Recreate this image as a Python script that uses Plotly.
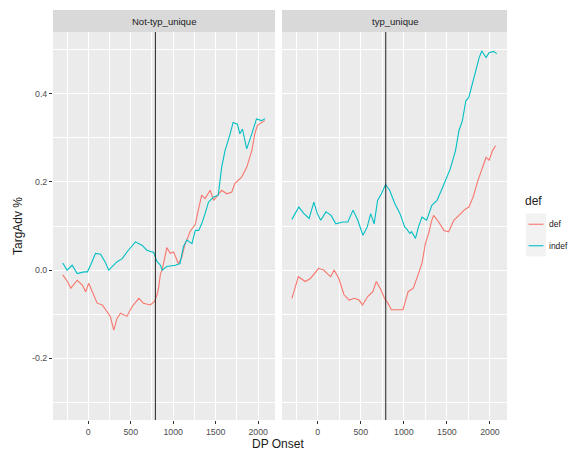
import plotly.graph_objects as go

panels = ["Not-typ_unique", "typ_unique"]
series_names = ["def", "indef"]
legend_title = "def"
colors = {"def": "#F8766D", "indef": "#00BFC4"}
vline_x = 790

# Not-typ_unique
nt_indef_x = [-300, -250, -190, -130, -50, -10, 27, 85, 145, 200, 240, 340, 400, 455, 555, 635, 690, 770, 810, 850, 870, 925, 1025, 1080, 1120, 1160, 1220, 1260, 1300, 1335, 1375, 1415, 1475, 1530, 1570, 1610, 1670, 1705, 1755, 1785, 1815, 1865, 1925, 1980, 2040, 2080]
nt_indef_y = [0.016, 0.0, 0.011, -0.008, -0.004, -0.004, 0.011, 0.038, 0.036, 0.018, 0.0, 0.019, 0.026, 0.041, 0.064, 0.056, 0.045, 0.040, 0.019, 0.011, 0.0, 0.008, 0.011, 0.015, 0.053, 0.068, 0.060, 0.090, 0.090, 0.105, 0.128, 0.154, 0.166, 0.170, 0.233, 0.271, 0.309, 0.335, 0.331, 0.309, 0.320, 0.275, 0.309, 0.343, 0.339, 0.343]
nt_def_x = [-300, -245, -205, -130, -70, -30, 5, 65, 105, 165, 225, 260, 300, 340, 380, 455, 515, 595, 650, 730, 780, 810, 830, 850, 870, 925, 965, 1005, 1060, 1100, 1140, 1160, 1200, 1260, 1295, 1335, 1375, 1435, 1475, 1530, 1570, 1630, 1690, 1725, 1805, 1865, 1925, 1960, 1990, 2040, 2080]
nt_def_y = [-0.011, -0.026, -0.041, -0.023, -0.034, -0.049, -0.030, -0.056, -0.075, -0.079, -0.094, -0.105, -0.136, -0.109, -0.098, -0.105, -0.083, -0.064, -0.075, -0.079, -0.071, -0.056, -0.038, -0.008, 0.0, 0.051, 0.038, 0.041, 0.015, 0.028, 0.060, 0.068, 0.088, 0.104, 0.136, 0.170, 0.162, 0.181, 0.158, 0.170, 0.181, 0.173, 0.177, 0.196, 0.211, 0.233, 0.271, 0.309, 0.328, 0.335, 0.339]

# typ_unique
t_indef_x = [-300, -260, -220, -160, -100, -45, -5, 35, 95, 155, 210, 290, 350, 410, 465, 525, 575, 615, 655, 695, 740, 788, 835, 895, 955, 1010, 1030, 1070, 1090, 1135, 1170, 1210, 1265, 1325, 1385, 1445, 1500, 1540, 1600, 1640, 1680, 1720, 1755, 1795, 1835, 1875, 1905, 1955, 1990, 2040, 2080]
t_indef_y = [0.115, 0.128, 0.143, 0.128, 0.117, 0.154, 0.128, 0.113, 0.132, 0.124, 0.105, 0.109, 0.109, 0.136, 0.113, 0.079, 0.098, 0.128, 0.105, 0.158, 0.173, 0.194, 0.181, 0.151, 0.128, 0.098, 0.094, 0.083, 0.087, 0.072, 0.098, 0.120, 0.113, 0.147, 0.158, 0.185, 0.211, 0.230, 0.271, 0.316, 0.339, 0.384, 0.392, 0.422, 0.452, 0.482, 0.497, 0.482, 0.493, 0.496, 0.491]
t_def_x = [-300, -225, -145, -85, 10, 70, 110, 150, 190, 245, 305, 365, 425, 480, 520, 580, 640, 680, 735, 775, 815, 855, 935, 990, 1050, 1110, 1170, 1210, 1250, 1290, 1320, 1345, 1405, 1465, 1520, 1580, 1640, 1700, 1755, 1805, 1855, 1915, 1955, 1990, 2030, 2065]
t_def_y = [-0.064, -0.015, -0.026, -0.019, 0.004, 0.0, -0.008, -0.015, 0.0, -0.019, -0.056, -0.068, -0.064, -0.068, -0.079, -0.060, -0.049, -0.026, -0.045, -0.064, -0.075, -0.090, -0.090, -0.090, -0.049, -0.041, -0.008, 0.015, 0.060, 0.085, 0.110, 0.124, 0.109, 0.090, 0.087, 0.113, 0.124, 0.136, 0.143, 0.166, 0.200, 0.235, 0.256, 0.249, 0.271, 0.282]

y_ticks = [-0.2, 0.0, 0.2, 0.4]
y_ticktext = ["-0.2", "0.0", "0.2", "0.4"]
y_minor = [-0.3, -0.1, 0.1, 0.3, 0.5]
x_ticks = [0, 500, 1000, 1500, 2000]
x_ticktext = ["0", "500", "1000", "1500", "2000"]
x_minor = [-250, 250, 750, 1250, 1750]

# window geometry (page body has an 8px margin)
OFF = 8
WIN_W, WIN_H = 577, 454
W, H = WIN_W - OFF, WIN_H - OFF
L, R, T, B = 53, 507, 32, 420          # plot area in window pixels
FONT = "Liberation Sans, Arial, sans-serif"
pw = R - L
ph = B - T


def px(wx):
    return (wx - L) / pw


def py(wy):
    return (B - wy) / ph


fig = go.Figure()
data = {
    ("Not-typ_unique", "def"): (nt_def_x, nt_def_y),
    ("Not-typ_unique", "indef"): (nt_indef_x, nt_indef_y),
    ("typ_unique", "def"): (t_def_x, t_def_y),
    ("typ_unique", "indef"): (t_indef_x, t_indef_y),
}
for i, p in enumerate(panels):
    for s in series_names:
        xs, ys = data[(p, s)]
        fig.add_trace(go.Scatter(
            x=xs, y=ys, mode="lines", name=s, legendgroup=s,
            showlegend=False,
            line=dict(color=colors[s], width=1.1),
            xaxis="x" if i == 0 else "x2", yaxis="y" if i == 0 else "y2",
        ))

dom1 = [0, px(275)]
dom2 = [px(282), 1]
xr = [-415, 2198]
yr = [-0.34, 0.54]

tickfont = dict(size=8.8, color="#4D4D4D", family=FONT)
common_x = dict(
    range=xr, tickvals=x_ticks, ticktext=x_ticktext, ticks="outside", ticklen=3,
    tickcolor="#333333", tickwidth=1, showgrid=True, gridcolor="white", gridwidth=1.1,
    zeroline=False, showline=False, tickfont=tickfont,
    minor=dict(tickvals=x_minor, showgrid=True, gridcolor="white", gridwidth=0.5, ticks=""),
    fixedrange=True,
)
common_y = dict(
    range=yr, tickvals=y_ticks, ticktext=y_ticktext, ticklen=3,
    tickcolor="#333333", tickwidth=1, showgrid=True, gridcolor="white", gridwidth=1.1,
    zeroline=False, showline=False,
    minor=dict(tickvals=y_minor, showgrid=True, gridcolor="white", gridwidth=0.5, ticks=""),
)

fig.update_layout(
    width=W, height=H,
    margin=dict(l=L - OFF, r=W - (R - OFF), t=T - OFF, b=H - (B - OFF), pad=0, autoexpand=False),
    paper_bgcolor="white", plot_bgcolor="#EBEBEB",
    font=dict(family=FONT, color="#1A1A1A"),
    xaxis=dict(domain=dom1, anchor="y", **common_x),
    xaxis2=dict(domain=dom2, anchor="y2", **common_x),
    yaxis=dict(anchor="x", ticks="outside", tickfont=tickfont, **common_y),
    yaxis2=dict(anchor="x2", matches="y", ticks="", showticklabels=False, **common_y),
    showlegend=False,
)

# strips and vertical reference lines
strip_h = 22 / ph
shapes = []
for i, p in enumerate(panels):
    dom = dom1 if i == 0 else dom2
    shapes.append(dict(type="rect", xref="paper", yref="paper", x0=dom[0], x1=dom[1],
                       y0=1, y1=1 + strip_h, fillcolor="#D9D9D9", line=dict(width=0), layer="below"))
    xa = "x" if i == 0 else "x2"
    ya = "y" if i == 0 else "y2"
    shapes.append(dict(type="line", xref=xa, yref=ya + " domain", x0=vline_x, x1=vline_x,
                       y0=0, y1=1, line=dict(color="#222222", width=1)))

ann = []
for i, p in enumerate(panels):
    dom = dom1 if i == 0 else dom2
    ann.append(dict(text=p, xref="paper", yref="paper", x=(dom[0] + dom[1]) / 2, y=1 + strip_h / 2,
                    showarrow=False, xanchor="center", yanchor="middle",
                    font=dict(size=9.5, color="#1A1A1A", family=FONT)))
ann.append(dict(text="DP Onset", xref="paper", yref="paper", x=px(278), y=py(443.5),
                showarrow=False, xanchor="center", yanchor="middle",
                font=dict(size=12, color="#1A1A1A", family=FONT)))
ann.append(dict(text="TargAdv %", xref="paper", yref="paper", x=px(18), y=0.5,
                showarrow=False, xanchor="center", yanchor="middle", textangle=-90,
                font=dict(size=12, color="#1A1A1A", family=FONT)))

# legend (ggplot style: grey key boxes with short line samples)
ann.append(dict(text=legend_title, xref="paper", yref="paper", x=px(523), y=py(201),
                showarrow=False, xanchor="left", yanchor="middle",
                font=dict(size=12, color="#1A1A1A", family=FONT)))
key_top, key_h, key_x0, key_x1 = 213.5, 21.5, 526, 546
for k, s in enumerate(series_names):
    y0 = key_top + k * key_h
    yc = y0 + key_h / 2
    shapes.append(dict(type="rect", xref="paper", yref="paper", x0=px(key_x0), x1=px(key_x1),
                       y0=py(y0 + key_h), y1=py(y0), fillcolor="#F2F2F2", line=dict(width=0)))
    shapes.append(dict(type="line", xref="paper", yref="paper", x0=px(key_x0 + 2.5), x1=px(key_x1 - 2.5),
                       y0=py(yc), y1=py(yc), line=dict(color=colors[s], width=1.1)))
    ann.append(dict(text=s, xref="paper", yref="paper", x=px(547), y=py(yc),
                    showarrow=False, xanchor="left", yanchor="middle",
                    font=dict(size=8.5, color="#1A1A1A", family=FONT)))

fig.update_layout(shapes=shapes, annotations=ann)

fig.write_html("out.html")
